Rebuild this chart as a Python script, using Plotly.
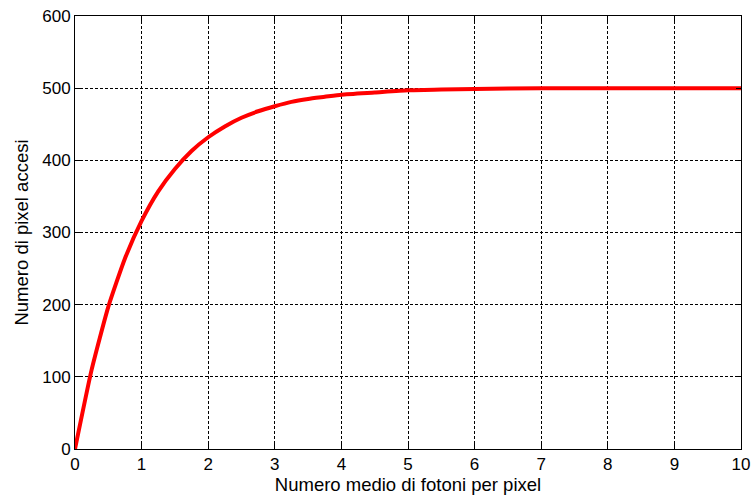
import plotly.graph_objects as go

# Values
photons = [0, 0.25, 0.5, 0.75, 1, 1.25, 1.5, 1.75, 2, 2.25, 2.5, 2.75, 3, 3.25, 3.5, 3.75, 4, 4.5, 5, 5.5, 6, 7, 8, 9, 10]
pixels_on = [0, 110, 197, 264, 316, 357, 388, 413, 432, 447, 459, 468, 475, 481, 485, 488, 491, 494, 497, 498, 499, 500, 500, 500, 500]

x_ticks = [0, 1, 2, 3, 4, 5, 6, 7, 8, 9, 10]
y_ticks = [0, 100, 200, 300, 400, 500, 600]

FONT = "Liberation Sans, Arial, sans-serif"

fig = go.Figure()
fig.add_trace(go.Scatter(
    x=photons, y=pixels_on, mode="lines",
    line=dict(color="#ff0000", width=4, shape="spline", smoothing=0.5),
    showlegend=False,
))

axis_common = dict(
    showline=True, linecolor="black", linewidth=1, mirror="allticks",
    ticks="inside", ticklen=5, tickcolor="black",
    showgrid=True, gridcolor="black", griddash="3px,2px", gridwidth=1,
    zeroline=False, automargin=False, ticklabeloverflow="allow",
    tickfont=dict(family=FONT, size=17, color="black"),
)

fig.update_layout(
    width=753, height=502,
    margin=dict(l=75, r=12, t=16, b=53),
    paper_bgcolor="white", plot_bgcolor="white",
    font=dict(family=FONT, color="black"),
    xaxis=dict(range=[0, 10], tickvals=x_ticks,
               title=dict(text="Numero medio di fotoni per pixel", font=dict(size=18.5), standoff=4),
               **axis_common),
    yaxis=dict(range=[0, 600], tickvals=y_ticks,
               title=dict(text="Numero di pixel accesi", font=dict(size=18.5), standoff=8),
               **axis_common),
)

fig.write_html(
    "out.html",
    config={"displayModeBar": False},
    post_script="document.body.style.margin='0';document.body.style.overflow='hidden';",
)
